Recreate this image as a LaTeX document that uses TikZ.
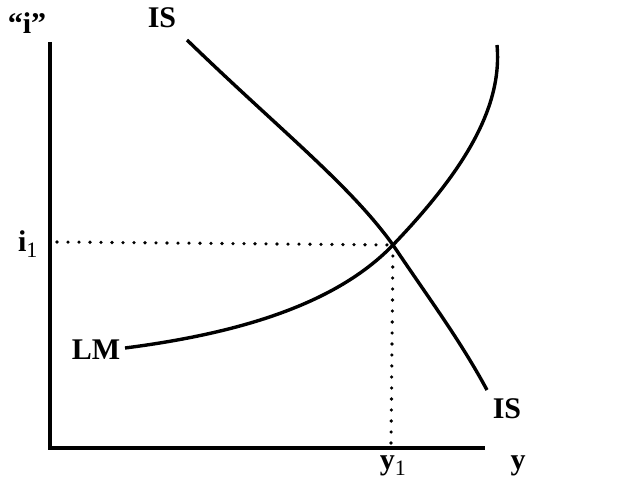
\documentclass[tikz,border=0pt]{standalone}
\usepackage{fontspec}
\setmainfont{Liberation Serif}
\begin{document}
\begin{tikzpicture}[x=1pt,y=-1pt,
  axis/.style={line width=3.6pt},
  curve/.style={line width=3.4pt},
  guide/.style={line width=3.6pt, dash pattern=on 0pt off 11pt, line cap=round},
  lbl/.style={font=\fontsize{30}{30}\selectfont\bfseries, inner sep=0pt}]
\useasboundingbox (0,0) rectangle (619,484);
% axes
\coordinate (top) at (50,42);
\coordinate (org) at (50,448);
\coordinate (xend) at (485,448);
\draw[axis] (top) -- (org) -- (xend);
% equilibrium
\coordinate (E) at (393,245);
\coordinate (iy) at (57,242);
\coordinate (xy) at (391,446);
\draw[guide] (iy) -- (E);
\draw[guide] (E) -- (xy);
% IS
\coordinate (IS1) at (187,40);
\coordinate (IS2) at (487,390);
\draw[curve] (IS1) .. controls (280,130) and (350,185) .. (E) .. controls (430,300) and (460,340) .. (IS2);
% LM
\coordinate (LM1) at (125,348);
\coordinate (LM2) at (497,45);
\draw[curve] (LM1) .. controls (250,332) and (340,300) .. (E) .. controls (460,175) and (503,110) .. (LM2);
% labels
\node[lbl] (li) at (27,23) {“i”};
\node[lbl] (lis1) at (162,18) {IS};
\node[lbl] (li1) at (28,244) {i\textsubscript{\normalfont\fontsize{22}{22}\selectfont 1}};
\node[lbl] (llm) at (96,350) {LM};
\node[lbl] (lis2) at (507,409) {IS};
\node[lbl] (ly1) at (393,466) {y\textsubscript{\normalfont\fontsize{22}{22}\selectfont 1}};
\node[lbl] (ly) at (518,466) {y};
\end{tikzpicture}
\end{document}
